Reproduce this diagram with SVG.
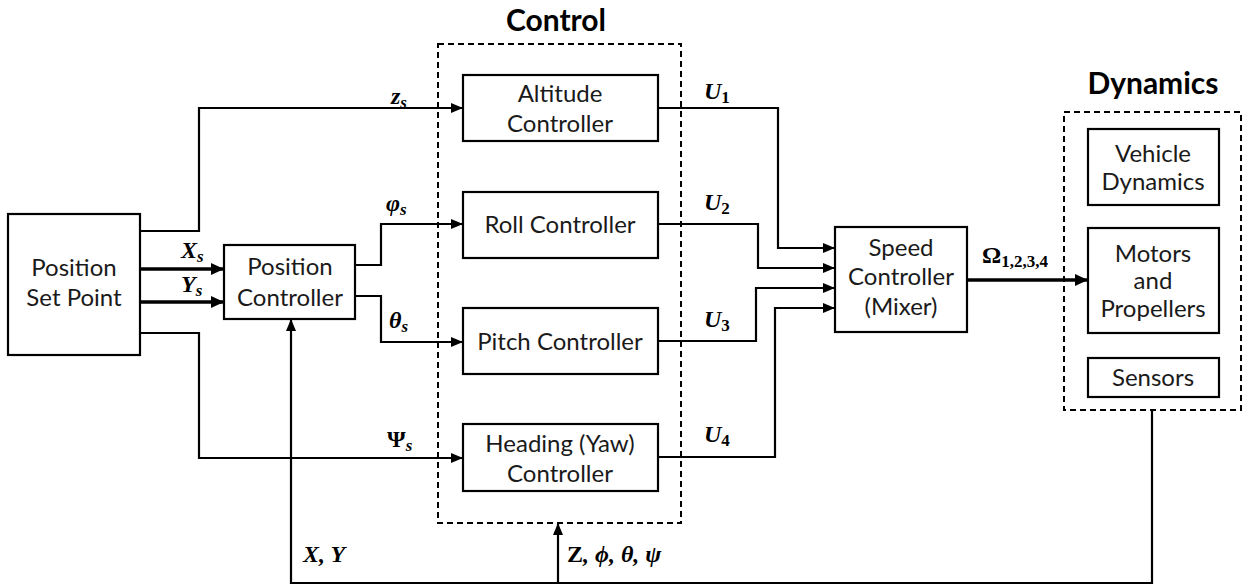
<svg xmlns="http://www.w3.org/2000/svg" width="1245" height="588" viewBox="0 0 1245 588">
  <style>
    .box { fill: #fff; stroke: #000; stroke-width: 2.2; }
    .group { fill: none; stroke: #000; stroke-width: 2; stroke-dasharray: 6 4; }
    .wire { fill: none; stroke: #000; stroke-width: 2.2; }
    .bus { fill: none; stroke: #000; stroke-width: 3.6; }
    .lbl { font-family: Lato, "Liberation Sans", sans-serif; font-size: 24px; fill: #1a1a1a; text-anchor: middle; }
    .title { font-family: Lato, "Liberation Sans", sans-serif; font-size: 30px; font-weight: bold; fill: #000; text-anchor: middle; }
    .math { font-family: "Liberation Serif", "DejaVu Serif", serif; font-size: 24px; font-weight: bold; font-style: italic; fill: #000; }
    .up { font-style: normal; }
    .sub { font-size: 17px; }
  </style>
  <defs>
    <marker id="arr" markerUnits="userSpaceOnUse" markerWidth="12" markerHeight="10" refX="11" refY="5" orient="auto">
      <path d="M0,0 L12,5 L0,10 Z" fill="#000"/>
    </marker>
    <marker id="arrBig" markerUnits="userSpaceOnUse" markerWidth="13" markerHeight="12" refX="12" refY="6" orient="auto">
      <path d="M0,0 L13,6 L0,12 Z" fill="#000"/>
    </marker>
  </defs>

  <!-- group titles -->
  <text class="title" x="556" y="31">Control</text>
  <text class="title" x="1153" y="94">Dynamics</text>

  <!-- dashed grouping frames -->
  <rect id="control-group" class="group" x="438" y="44" width="243" height="479"/>
  <rect id="dynamics-group" class="group" x="1064" y="112" width="177" height="298"/>

  <!-- connectors -->
  <g id="connectors">
    <!-- set point to altitude controller -->
    <polyline class="wire" points="140,231 199,231 199,108 462,108" marker-end="url(#arr)"/>
    <!-- X, Y set points -->
    <line class="bus" x1="140" y1="269" x2="223" y2="269" marker-end="url(#arrBig)"/>
    <line class="bus" x1="140" y1="302" x2="223" y2="302" marker-end="url(#arrBig)"/>
    <!-- heading set point -->
    <polyline class="wire" points="140,333 199,333 199,458 462,458" marker-end="url(#arr)"/>
    <!-- position controller outputs -->
    <polyline class="wire" points="355,265 381,265 381,224 462,224" marker-end="url(#arr)"/>
    <polyline class="wire" points="355,296 381,296 381,342 462,342" marker-end="url(#arr)"/>
    <!-- controller outputs to mixer -->
    <polyline class="wire" points="658,108 778,108 778,248 834,248" marker-end="url(#arr)"/>
    <polyline class="wire" points="658,224 758,224 758,268 834,268" marker-end="url(#arr)"/>
    <polyline class="wire" points="658,341 756,341 756,288 834,288" marker-end="url(#arr)"/>
    <polyline class="wire" points="658,457 775,457 775,308 834,308" marker-end="url(#arr)"/>
    <!-- rotor speeds -->
    <line class="bus" x1="967" y1="280" x2="1087" y2="280" marker-end="url(#arrBig)"/>
    <!-- feedback -->
    <polyline class="wire" points="1152,411 1152,583 291,583 291,320" marker-end="url(#arr)"/>
    <line class="wire" x1="558" y1="583" x2="558" y2="524" marker-end="url(#arr)"/>
  </g>

  <!-- signal labels -->
  <text class="math" x="391" y="104">z<tspan class="sub" dy="4">s</tspan></text>
  <text class="math" x="386" y="211">φ<tspan class="sub" dy="4">s</tspan></text>
  <text class="math" x="181" y="258">X<tspan class="sub" dy="4">s</tspan></text>
  <text class="math" x="181" y="292">Y<tspan class="sub" dy="4">s</tspan></text>
  <text class="math" x="389" y="328">θ<tspan class="sub" dy="4">s</tspan></text>
  <text class="math" x="387" y="447"><tspan class="up">Ψ</tspan><tspan class="sub" dy="4">s</tspan></text>
  <text class="math" x="704" y="99">U<tspan class="sub up" dy="4">1</tspan></text>
  <text class="math" x="704" y="210">U<tspan class="sub up" dy="4">2</tspan></text>
  <text class="math" x="704" y="327">U<tspan class="sub up" dy="4">3</tspan></text>
  <text class="math" x="704" y="442">U<tspan class="sub up" dy="4">4</tspan></text>
  <text class="math" x="982" y="263"><tspan class="up">Ω</tspan><tspan class="sub up" dy="4">1,2,3,4</tspan></text>
  <text class="math" x="303" y="562">X, Y</text>
  <text class="math" x="567" y="562"><tspan class="up">Z</tspan>, ϕ, θ, ψ</text>

  <!-- blocks -->
  <g id="position-set-point">
    <rect class="box" x="8" y="214" width="132" height="141"/>
    <text class="lbl" x="74" y="276">Position</text>
    <text class="lbl" x="74" y="306">Set Point</text>
  </g>
  <g id="position-controller">
    <rect class="box" x="224" y="245" width="131" height="74"/>
    <text class="lbl" x="290" y="275">Position</text>
    <text class="lbl" x="290" y="306">Controller</text>
  </g>
  <g id="altitude-controller">
    <rect class="box" x="463" y="75" width="195" height="66"/>
    <text class="lbl" x="560" y="102">Altitude</text>
    <text class="lbl" x="560" y="132">Controller</text>
  </g>
  <g id="roll-controller">
    <rect class="box" x="463" y="192" width="195" height="66"/>
    <text class="lbl" x="560" y="233">Roll Controller</text>
  </g>
  <g id="pitch-controller">
    <rect class="box" x="463" y="308" width="195" height="66"/>
    <text class="lbl" x="560" y="350">Pitch Controller</text>
  </g>
  <g id="heading-controller">
    <rect class="box" x="463" y="424" width="195" height="67"/>
    <text class="lbl" x="560" y="452">Heading (Yaw)</text>
    <text class="lbl" x="560" y="482">Controller</text>
  </g>
  <g id="speed-controller">
    <rect class="box" x="835" y="227" width="132" height="105"/>
    <text class="lbl" x="901" y="256">Speed</text>
    <text class="lbl" x="901" y="285">Controller</text>
    <text class="lbl" x="901" y="315">(Mixer)</text>
  </g>
  <g id="vehicle-dynamics">
    <rect class="box" x="1088" y="129" width="131" height="76"/>
    <text class="lbl" x="1153" y="162">Vehicle</text>
    <text class="lbl" x="1153" y="190">Dynamics</text>
  </g>
  <g id="motors-propellers">
    <rect class="box" x="1088" y="228" width="131" height="105"/>
    <text class="lbl" x="1153" y="262">Motors</text>
    <text class="lbl" x="1153" y="289">and</text>
    <text class="lbl" x="1153" y="317">Propellers</text>
  </g>
  <g id="sensors">
    <rect class="box" x="1088" y="358" width="131" height="39"/>
    <text class="lbl" x="1153" y="386">Sensors</text>
  </g>
</svg>
